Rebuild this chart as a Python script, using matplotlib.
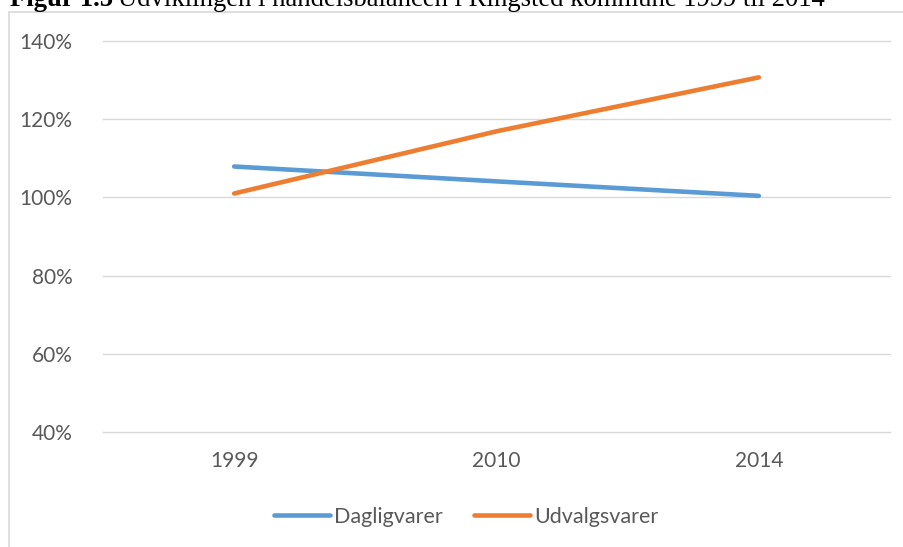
import matplotlib
matplotlib.use("Agg")
import matplotlib.pyplot as plt
from matplotlib.patches import Rectangle
from matplotlib.ticker import FuncFormatter

years = ["1999", "2010", "2014"]
dagligvarer = [107.9, 104.1, 100.4]
udvalgsvarer = [101.0, 116.9, 130.7]
yticks = [40, 60, 80, 100, 120, 140]

W, H = 904, 547
fig = plt.figure(figsize=(W / 100, H / 100), dpi=100)
plt.rcParams['font.family'] = ['Lato', 'DejaVu Sans']

# chart frame (partly outside the image, like the cropped screenshot)
fig.patches.append(Rectangle((9 / W, -0.1), 1.0, 1 - 12 / H + 0.1, transform=fig.transFigure,
                             fill=False, edgecolor='#D9D9D9', linewidth=1.2))

ax = fig.add_axes([103 / W, 1 - 432 / H, (890 - 103) / W, (432 - 41) / H])
x = range(len(years))
ax.plot(x, dagligvarer, color='#5B9BD5', linewidth=3.3, solid_capstyle='round', label='Dagligvarer')
ax.plot(x, udvalgsvarer, color='#ED7D31', linewidth=3.3, solid_capstyle='round', label='Udvalgsvarer')

ax.set_xlim(-0.5, len(years) - 0.5)
ax.set_ylim(40, 140)
ax.set_yticks(yticks)
ax.yaxis.set_major_formatter(FuncFormatter(lambda v, p: f"{v:.0f}%"))
ax.set_xticks(list(x))
ax.set_xticklabels(years)
ax.grid(axis='y', color='#D9D9D9', linewidth=1)
for gl in ax.get_ygridlines():
    gl.set_clip_on(False)
ax.set_axisbelow(True)
for s in ax.spines.values():
    s.set_visible(False)
ax.tick_params(length=0, labelsize=15, labelcolor='#595959')
ax.tick_params(axis='x', pad=14)
ax.tick_params(axis='y', pad=22)

fig.legend(loc='center', bbox_to_anchor=(466 / W, 1 - 517 / H), ncol=2, frameon=False,
           fontsize=15.5, labelcolor='#595959', handlelength=2.6, handletextpad=0.2,
           columnspacing=1.45)

# title, cut off at top like the reference
ty = 1 - 6.5 / H
t1 = fig.text(10 / W, ty, "Figur 1.5", fontsize=19.2, fontweight='bold',
              family='Liberation Serif', va='baseline')
fig.canvas.draw()
bb = t1.get_window_extent()
fig.text((bb.x1 + 5) / W, ty, "Udviklingen i handelsbalancen i Ringsted kommune 1999 til 2014",
         fontsize=19.2, family='Liberation Serif', va='baseline')

fig.savefig("out.png", dpi=100)
